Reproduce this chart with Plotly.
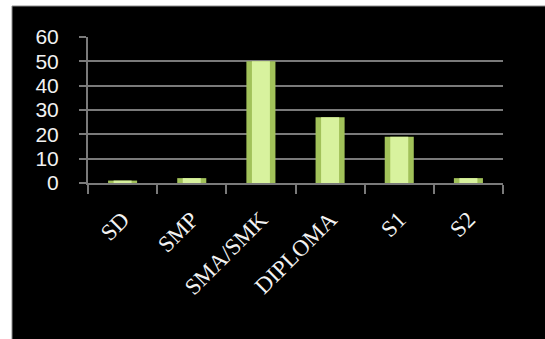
import plotly.graph_objects as go

# Education level counts
categories = ["SD", "SMP", "SMA/SMK", "DIPLOMA", "S1", "S2"]
values = [1, 2, 50, 27, 19, 2]
y_ticks = [0, 10, 20, 30, 40, 50, 60]

fig = go.Figure()

# outer bar body (darker edges)
fig.add_trace(go.Bar(
    x=categories, y=values, width=0.42,
    marker=dict(color="#a2c25a", line=dict(width=0)),
    hoverinfo="x+y", showlegend=False,
))
# lighter centre band of each bar
fig.add_trace(go.Bar(
    x=categories, y=values, width=0.26,
    marker=dict(color="#d8f29e", line=dict(width=0)),
    hoverinfo="skip", showlegend=False,
))

W, H = 545, 339
ml, mr, mt, mb = 88, 42, 37, 156
pw, ph = W - ml - mr, H - mt - mb

def px_to_paper_x(px):
    return (px - ml) / pw

def px_to_paper_y(py):
    return (H - mb - py) / ph

# black panel with thin grey border on a white page
fig.add_shape(
    type="rect", xref="paper", yref="paper", layer="below",
    x0=px_to_paper_x(12), x1=px_to_paper_x(W + 5),
    y0=px_to_paper_y(H + 5), y1=px_to_paper_y(6),
    fillcolor="#000000", line=dict(color="#8c8c8c", width=1),
)

grid = "#7a7a7a"
fig.update_layout(
    width=W, height=H,
    margin=dict(l=ml, r=mr, t=mt, b=mb),
    paper_bgcolor="#ffffff", plot_bgcolor="#000000",
    barmode="overlay",
    xaxis=dict(
        type="category", tickangle=-45,
        showline=True, linecolor=grid, linewidth=2,
        ticks="outside", tickson="boundaries", ticklen=9,
        tickcolor=grid, tickwidth=2,
        showgrid=False,
        tickfont=dict(family="Liberation Serif, DejaVu Serif, serif", size=23, color="#f2f2f2"),
        ticklabelstandoff=12,
    ),
    yaxis=dict(
        range=[0, 60], tickvals=y_ticks,
        showline=True, linecolor=grid, linewidth=2,
        ticks="outside", ticklen=7, tickcolor=grid, tickwidth=2,
        showgrid=True, gridcolor=grid, gridwidth=2,
        zeroline=False,
        tickfont=dict(family="Liberation Sans Narrow, Liberation Sans, sans-serif", size=21, color="#f2f2f2"),
        ticklabelstandoff=16,
    ),
)

fig.write_html("out.html")
